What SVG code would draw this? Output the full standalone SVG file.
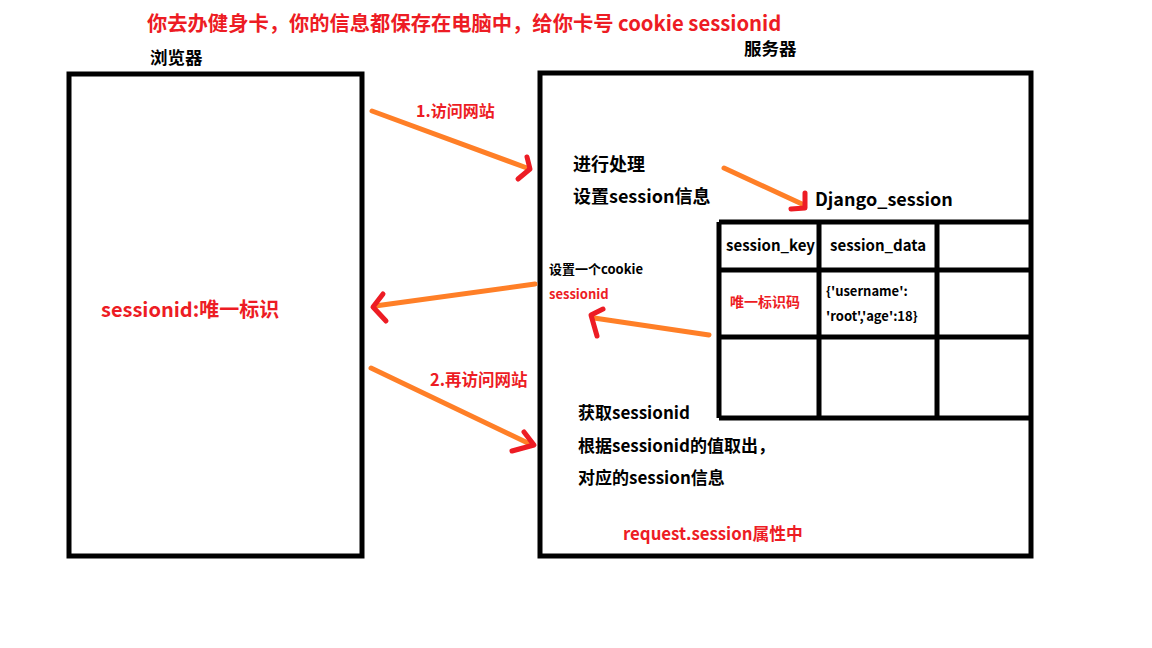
<svg xmlns="http://www.w3.org/2000/svg" width="1152" height="648" viewBox="0 0 1152 648">
<style>
text{font-family:"Noto Sans CJK SC","Liberation Sans",sans-serif;font-weight:bold}
.red{fill:#ED1C24}
.blk{fill:#000}
.box{fill:none;stroke:#000;stroke-width:5}
.ln{fill:none;stroke:#FF7F27;stroke-width:5;stroke-linecap:round}
.hd{fill:none;stroke:#ED1C24;stroke-width:5;stroke-linecap:round;stroke-linejoin:round}
</style>
<rect width="1152" height="648" fill="#fff"/>
<text class="red" x="147" y="31" font-size="20.3">你去办健身卡，你的信息都保存在电脑中，给你卡号 cookie sessionid</text>
<g id="browser">
<rect class="box" x="69" y="74" width="293" height="482"/>
<text class="blk" x="150" y="64" font-size="17.5">浏览器</text>
<text class="red" x="101" y="317" font-size="20">sessionid:唯一标识</text>
</g>
<g id="server">
<rect class="box" x="540" y="73" width="491" height="483"/>
<text class="blk" x="744" y="55" font-size="17.5">服务器</text>
<text class="blk" x="573" y="171" font-size="18">进行处理</text>
<text class="blk" x="573" y="203" font-size="18">设置session信息</text>
<text class="blk" x="549" y="274" font-size="13">设置一个cookie</text>
<text class="red" x="549" y="299" font-size="13">sessionid</text>
<text class="blk" x="578" y="419" font-size="17">获取sessionid</text>
<text class="blk" x="578" y="452" font-size="17">根据sessionid的值取出，</text>
<text class="blk" x="578" y="484" font-size="17">对应的session信息</text>
<text class="red" x="623" y="540" font-size="16.8">request.session属性中</text>
</g>
<g id="django_session">
<text class="blk" x="815" y="206" font-size="18">Django_session</text>
<path class="box" d="M719 222H1031M719 270H1031M719 337H1031M719 418H1031M719 222V418M819 222V418M937 222V418"/>
<text class="blk" x="726" y="251" font-size="15">session_key</text>
<text class="blk" x="830" y="251" font-size="15">session_data</text>
<text class="red" x="730" y="307" font-size="14" font-weight="normal">唯一标识码</text>
<text class="blk" x="826" y="296" font-size="13">{'username':</text>
<text class="blk" x="826" y="321" font-size="13">'root','age':18}</text>
</g>
<g id="connectors">
<line class="ln" x1="372" y1="111" x2="527" y2="168"/>
<polyline class="hd" points="527,157 530,169 518,179"/>
<text class="red" x="416" y="117" font-size="16">1.访问网站</text>
<line class="ln" x1="535" y1="284" x2="375" y2="306"/>
<polyline class="hd" points="383,294 373,307 386,321"/>
<line class="ln" x1="709" y1="335" x2="594" y2="318"/>
<polyline class="hd" points="603,309 591,315 597,336"/>
<line class="ln" x1="371" y1="368" x2="532" y2="445"/>
<polyline class="hd" points="524,432 534,445 512,451"/>
<text class="red" x="430" y="386" font-size="16.5">2.再访问网站</text>
<line class="ln" x1="724" y1="168" x2="802" y2="204"/>
<polyline class="hd" points="805,193 805,208 791,209"/>
</g>
</svg>
